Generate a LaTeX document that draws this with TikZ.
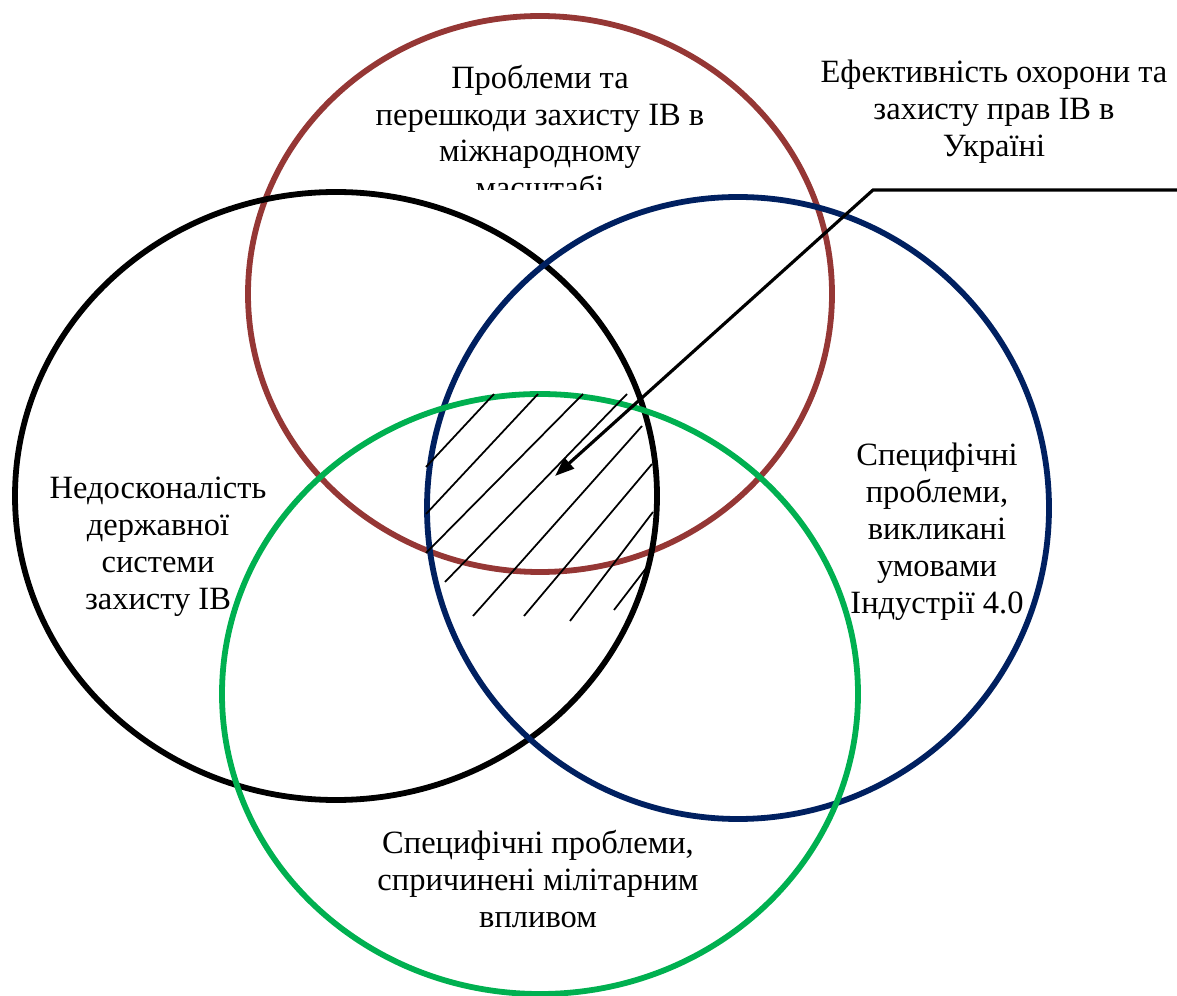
\documentclass[tikz,border=0pt]{standalone}
\usepackage{fontspec}
\setmainfont{Liberation Serif}
\usetikzlibrary{arrows.meta}
\usepackage{xcolor}
\definecolor{ringred}{HTML}{953735}
\definecolor{ringblue}{HTML}{002060}
\definecolor{ringgreen}{HTML}{00B050}

\begin{document}
\begin{tikzpicture}[x=0.02cm, y=-0.02cm]
        % ================= styles =================
        \tikzset{
            % circle outlines
            ring/.style={line width=3.3pt},
            % captions inside the circles
            vtext/.style={align=center, inner sep=0pt, font=\fontsize{18.5}{21}\selectfont},
            % hatching of the common area
            hatch/.style={line width=1pt, black},
            % pointer to the common area
            pointer/.style={line width=1.8pt, black, -{Triangle[length=11pt, width=8pt]}}
        }
        \useasboundingbox (0,0) rectangle (1177,996);

        % ================= 1. centres =================
        \coordinate (cRed)   at (540,294);   % top
        \coordinate (cBlack) at (336,496);   % left
        \coordinate (cBlue)  at (738,508);   % right
        \coordinate (cGreen) at (540,694);   % bottom

        % ================= 2. circles =================
        \draw[ring, ringred]   (cRed)   ellipse [x radius=292, y radius=278];
        \draw[ring, black]     (cBlack) ellipse [x radius=321, y radius=304];
        \draw[ring, ringblue]  (cBlue)  ellipse [x radius=311, y radius=311];
        \draw[ring, ringgreen] (cGreen) ellipse [x radius=318, y radius=300];

        % ================= 3. hatching =================
        \foreach \xa/\ya/\xb/\yb in {426/467/494/394, 426/514/538/394, 426/553/583/394,
                                     445/582/627/394, 473/616/642/426, 524/616/652/464,
                                     570/621/653/512, 614/610/647/567}
            \draw[hatch] (\xa,\ya) -- (\xb,\yb);

        % ================= 4. captions =================
        \begin{scope}
            \clip (0,0) rectangle (1177,190);
            \node[vtext] (tRed) at (540,132) {Проблеми та\\перешкоди захисту ІВ в\\міжнародному\\масштабі};
        \end{scope}
        \node[vtext] (tCore)  at (994,112) {Ефективність охорони та\\захисту прав ІВ в\\Україні};
        \node[vtext] (tBlack) at (158,547) {Недосконалість\\державної\\системи\\захисту ІВ};
        \node[vtext] (tBlue)  at (937,532) {Специфічні\\проблеми,\\викликані\\умовами\\Індустрії 4.0};
        \node[vtext] (tGreen) at (538,879) {Специфічні проблеми,\\спричинені мілітарним\\впливом};

        % ================= 5. pointer =================
        \coordinate (pTail) at (1177,190);
        \coordinate (pBend) at (873,190);
        \coordinate (pTip)  at (555,476);
        \draw[pointer] (pTail) -- (pBend) -- (pTip);

\end{tikzpicture}
\end{document}
